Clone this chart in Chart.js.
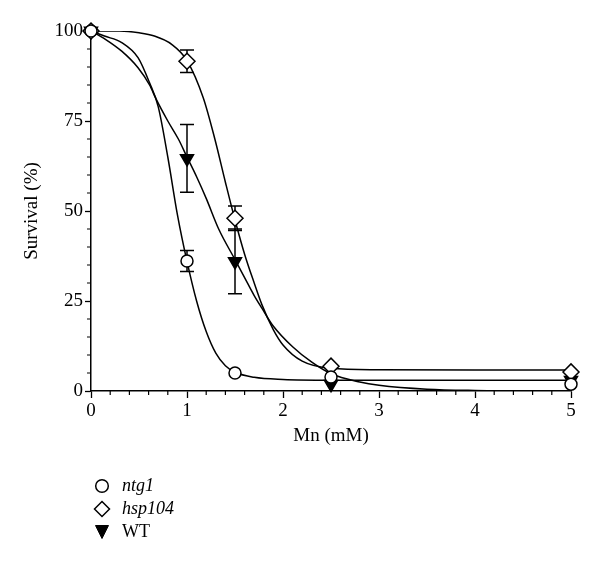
<!DOCTYPE html>
<html>
<head>
<meta charset="utf-8">
<title>Survival vs Mn</title>
<script src="https://cdn.jsdelivr.net/npm/chart.js@4.4.0/dist/chart.umd.min.js"></script>
<style>
    html, body { margin: 0; padding: 0; background: #fff; }
    #wrap { position: relative; width: 600px; height: 566px; }
    #legend {
        position: absolute; left: 92px; top: 474px;
        font-family: 'Liberation Serif', 'Times New Roman', serif;
        font-size: 18px; color: #000;
    }
    #legend .row { height: 23px; display: flex; align-items: center; }
    #legend svg { width: 20px; height: 20px; margin-right: 10px; }
    #legend i { font-style: italic; }
</style>
</head>
<body>
<div id="wrap">
    <canvas id="survival-chart" width="600" height="566"></canvas>
    <div id="legend">
        <div class="row">
            <svg viewBox="0 0 20 20"><circle cx="10" cy="10" r="6.3" fill="#fff" stroke="#000" stroke-width="1.5"/></svg>
            <i>ntg1</i>
        </div>
        <div class="row">
            <svg viewBox="0 0 20 20"><polygon points="10,2.5 17.5,10 10,17.5 2.5,10" fill="#fff" stroke="#000" stroke-width="1.5"/></svg>
            <i>hsp104</i>
        </div>
        <div class="row">
            <svg viewBox="0 0 20 20"><polygon points="3.5,3.5 16.5,3.5 10,16.5" fill="#000" stroke="#000" stroke-width="1"/></svg>
            <span>WT</span>
        </div>
    </div>
</div>
<script>
// Measured points (Mn in mM)
const xPoints = [0, 1, 1.5, 2.5, 5];

const ntg1Values = [100, 36.1, 5, 3.9, 1.9];
const ntg1Err = [0, 2.9, 0, 0, 0];

const hsp104Values = [100, 91.6, 48, 6.9, 5.3];
const hsp104Err = [0, 3.1, 3.4, 0, 0];

const wtValues = [100, 64.6, 36, 1.9, 3];
const wtErr = [0, 9.4, 9, 0, 0];

// Fitted curves
const ntg1CurveX = [0, 0.14, 0.32, 0.49, 0.61, 0.7, 0.8, 0.9, 1.0, 1.1, 1.2, 1.3, 1.4, 1.5, 1.7, 2.0, 2.5, 3, 4, 5];
const ntg1CurveY = [100, 98.6, 96.8, 92.6, 85.6, 79, 65, 49, 36, 25, 16.5, 10.5, 7, 5.2, 3.8, 3.2, 3.0, 3.0, 3.0, 3.0];

const hsp104CurveX = [0, 0.3, 0.5, 0.66, 0.84, 1.0, 1.17, 1.29, 1.4, 1.5, 1.6, 1.7, 1.78, 1.9, 2.0, 2.2, 2.5, 3, 4, 5];
const hsp104CurveY = [100, 100, 99.5, 98.6, 96.3, 91.8, 81.4, 70, 58, 47.5, 38, 30, 24, 17, 12.8, 8.3, 6.3, 5.9, 5.8, 5.8];

const wtCurveX = [0, 0.15, 0.32, 0.49, 0.61, 0.68, 0.8, 0.91, 1.0, 1.1, 1.2, 1.33, 1.5, 1.6, 1.7, 1.78, 1.9, 2.1, 2.3, 2.5, 2.8, 3.0, 3.5, 4, 5];
const wtCurveY = [100, 97.7, 94.4, 89.8, 85, 81, 75, 70, 65, 59.5, 53.5, 45, 36.5, 31.5, 26.5, 23, 18, 12.3, 8, 4.8, 2.5, 1.6, 0.5, 0.15, 0];

const xTicks = [0, 1, 2, 3, 4, 5];
const yTicks = [0, 25, 50, 75, 100];
const xMinorStep = 0.2;
const yMinorStep = 5;

const serif = "'Liberation Serif', 'Times New Roman', serif";

function toXY(xs, ys) {
    return xs.map((x, i) => ({ x: x, y: ys[i] }));
}

const series = [
    { values: ntg1Values, err: ntg1Err },
    { values: hsp104Values, err: hsp104Err },
    { values: wtValues, err: wtErr }
];

// Error bars are drawn under the markers
const errorBars = {
    id: 'errorBars',
    beforeDatasetsDraw(chart) {
        const { ctx, scales: { x, y } } = chart;
        ctx.save();
        ctx.strokeStyle = '#000';
        ctx.lineWidth = 1.5;
        series.forEach(s => {
            s.err.forEach((e, i) => {
                if (!e) return;
                const px = x.getPixelForValue(xPoints[i]);
                const top = y.getPixelForValue(s.values[i] + e);
                const bot = y.getPixelForValue(s.values[i] - e);
                ctx.beginPath();
                ctx.moveTo(px, top); ctx.lineTo(px, bot);
                ctx.moveTo(px - 7, top); ctx.lineTo(px + 7, top);
                ctx.moveTo(px - 7, bot); ctx.lineTo(px + 7, bot);
                ctx.stroke();
            });
        });
        ctx.restore();
    }
};

// Short minor ticks between the labelled ones
const minorTicks = {
    id: 'minorTicks',
    afterDraw(chart) {
        const { ctx, chartArea, scales: { x, y } } = chart;
        ctx.save();
        ctx.strokeStyle = '#000';
        ctx.lineWidth = 1.2;
        ctx.beginPath();
        for (let k = 1; k * xMinorStep < x.max; k++) {
            if (k % 5 === 0) continue;
            const px = x.getPixelForValue(k * xMinorStep);
            ctx.moveTo(px, chartArea.bottom);
            ctx.lineTo(px, chartArea.bottom + 4);
        }
        for (let k = 1; k * yMinorStep < y.max; k++) {
            if (k % 5 === 0) continue;
            const py = y.getPixelForValue(k * yMinorStep);
            ctx.moveTo(chartArea.left, py);
            ctx.lineTo(chartArea.left - 4, py);
        }
        ctx.stroke();
        ctx.restore();
    }
};

const curveStyle = {
    showLine: true,
    pointRadius: 0,
    borderColor: '#000',
    borderWidth: 1.5,
    cubicInterpolationMode: 'monotone',
    order: 2
};

const markerStyle = {
    showLine: false,
    borderColor: '#000',
    borderWidth: 1.5,
    backgroundColor: '#fff',
    clip: false,
    order: 0
};

const ctx = document.getElementById('survival-chart');

new Chart(ctx, {
    type: 'scatter',
    data: {
        datasets: [
            Object.assign({ label: 'ntg1', data: toXY(xPoints, ntg1Values), pointStyle: 'circle', pointRadius: 6 }, markerStyle),
            Object.assign({ label: 'hsp104', data: toXY(xPoints, hsp104Values), pointStyle: 'rectRot', pointRadius: 8 }, markerStyle),
            Object.assign({ label: 'WT', data: toXY(xPoints, wtValues), pointStyle: 'triangle', pointRotation: 180, pointRadius: 7.5 }, markerStyle, { backgroundColor: '#000' }),
            Object.assign({ label: 'ntg1 fit', data: toXY(ntg1CurveX, ntg1CurveY) }, curveStyle),
            Object.assign({ label: 'hsp104 fit', data: toXY(hsp104CurveX, hsp104CurveY) }, curveStyle),
            Object.assign({ label: 'WT fit', data: toXY(wtCurveX, wtCurveY) }, curveStyle)
        ]
    },
    options: {
        responsive: false,
        animation: false,
        events: [],
        layout: { padding: { left: 17, right: 29, top: 31, bottom: 115 } },
        plugins: {
            legend: { display: false },
            tooltip: { enabled: false }
        },
        scales: {
            x: {
                type: 'linear',
                min: 0,
                max: 5,
                afterFit(scale) { scale.height = 60; },
                afterBuildTicks(scale) { scale.ticks = xTicks.map(v => ({ value: v })); },
                ticks: {
                    color: '#000',
                    padding: 2,
                    maxRotation: 0,
                    font: { family: serif, size: 19 }
                },
                grid: { drawOnChartArea: false, tickLength: 7, tickColor: '#000', tickWidth: 1.3 },
                border: { color: '#000', width: 1.5 },
                title: {
                    display: true,
                    text: 'Mn (mM)',
                    color: '#000',
                    font: { family: serif, size: 19 },
                    padding: { top: 4, bottom: 4 }
                }
            },
            y: {
                type: 'linear',
                min: 0,
                max: 100,
                afterFit(scale) { scale.width = 74; },
                afterBuildTicks(scale) { scale.ticks = yTicks.map(v => ({ value: v })); },
                ticks: {
                    color: '#000',
                    padding: 2,
                    font: { family: serif, size: 19 }
                },
                grid: { drawOnChartArea: false, tickLength: 6, tickColor: '#000', tickWidth: 1.3 },
                border: { color: '#000', width: 1.5 },
                title: {
                    display: true,
                    text: 'Survival (%)',
                    color: '#000',
                    font: { family: serif, size: 19 },
                    padding: { top: 4, bottom: 4 }
                }
            }
        }
    },
    plugins: [errorBars, minorTicks]
});
</script>
</body>
</html>
